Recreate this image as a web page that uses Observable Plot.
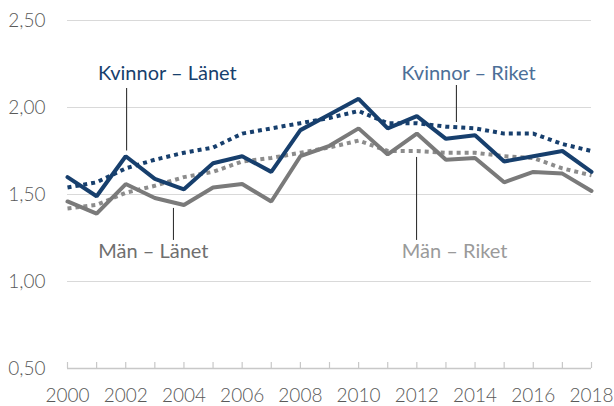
<!DOCTYPE html>
<html>
<head>
<meta charset="utf-8">
<script src="https://cdn.jsdelivr.net/npm/d3@7"></script>
<script src="https://cdn.jsdelivr.net/npm/@observablehq/plot@0.6"></script>
<style>
  html, body { margin: 0; padding: 0; background: #fff; }
  #chart svg { display: block; }
</style>
</head>
<body>
<div id="chart"></div>
<script>
const years = d3.range(2000, 2019);
const kvinnorLanet = [1.60,1.49,1.72,1.59,1.53,1.68,1.72,1.63,1.87,1.96,2.05,1.88,1.95,1.82,1.84,1.69,1.72,1.75,1.63];
const kvinnorRiket = [1.54,1.57,1.65,1.70,1.74,1.77,1.85,1.88,1.91,1.94,1.98,1.91,1.91,1.89,1.88,1.85,1.85,1.79,1.75];
const manLanet     = [1.46,1.39,1.56,1.48,1.44,1.54,1.56,1.46,1.72,1.78,1.88,1.73,1.85,1.70,1.71,1.57,1.63,1.62,1.52];
const manRiket     = [1.42,1.44,1.51,1.55,1.60,1.63,1.69,1.71,1.74,1.77,1.81,1.75,1.75,1.74,1.74,1.72,1.71,1.65,1.61];
const yTicks = [0.5, 1.0, 1.5, 2.0, 2.5];
const xTicks = d3.range(2000, 2019, 2);

const blue = "#173f6d";
const gray = "#7a7a7a";
const grayDot = "#8c8c8c";

const toRows = (vals) => years.map((y, i) => ({year: y, value: vals[i]}));

// annotation labels (data coordinates)
const labels = [
  {text: "Kvinnor – Länet", x: 2003.43, y: 2.195, fill: blue, weight: 500},
  {text: "Kvinnor – Riket", x: 2013.78, y: 2.195, fill: "#4c6f98", weight: 300},
  {text: "Män – Länet", x: 2002.95, y: 1.172, fill: "#6f6f6f", weight: 400},
  {text: "Män – Riket", x: 2013.3, y: 1.172, fill: "#9a9a9a", weight: 300}
];
const leaders = [
  {x: 2002.03, y1: 2.109, y2: 1.75},
  {x: 2013.36, y1: 2.126, y2: 1.914},
  {x: 2003.64, y1: 1.42, y2: 1.236},
  {x: 2011.99, y1: 1.713, y2: 1.236}
];

const fmt = (d) => d3.format(".2f")(d).replace(".", ",");

const chart = Plot.plot({
  width: 614,
  height: 406,
  marginLeft: 67,
  marginRight: 23,
  marginTop: 20,
  marginBottom: 38,
  style: {fontFamily: "Lato", fontSize: "19px", background: "#fff"},
  x: {domain: [2000, 2018], label: null},
  y: {domain: [0.5, 2.5], label: null},
  marks: [
    Plot.ruleY(yTicks.slice(1), {stroke: "#d9d9d9", strokeWidth: 1.2}),
    Plot.ruleY([0.5], {stroke: "#c8c8c8", strokeWidth: 1.5}),
    Plot.ruleX(years, {x: d => d, y1: 0.5, y2: 0.5, insetTop: -6, stroke: "#c8c8c8", strokeWidth: 1.2}),
    Plot.axisY(yTicks, {tickSize: 0, tickPadding: 22, tickFormat: fmt, fill: "#595959", fontWeight: 300, fontSize: 19}),
    Plot.axisX(xTicks, {tickSize: 0, tickPadding: 20, tickFormat: d => String(d), fill: "#595959", fontWeight: 300, fontSize: 19}),
    Plot.ruleX(leaders, {x: "x", y1: "y1", y2: "y2", stroke: "#333", strokeWidth: 1.1}),
    Plot.line(toRows(manRiket), {x: "year", y: "value", stroke: grayDot, strokeWidth: 4, strokeDasharray: "4,4", strokeLinecap: "butt"}),
    Plot.line(toRows(kvinnorRiket), {x: "year", y: "value", stroke: blue, strokeWidth: 4, strokeDasharray: "4,4", strokeLinecap: "butt"}),
    Plot.line(toRows(manLanet), {x: "year", y: "value", stroke: gray, strokeWidth: 4, strokeLinejoin: "miter"}),
    Plot.line(toRows(kvinnorLanet), {x: "year", y: "value", stroke: blue, strokeWidth: 4, strokeLinejoin: "miter"}),
    Plot.text(labels, {x: "x", y: "y", text: "text", fill: "fill", fontWeight: d => d.weight, fontSize: 20})
  ]
});
document.getElementById("chart").appendChild(chart);
</script>
</body>
</html>
